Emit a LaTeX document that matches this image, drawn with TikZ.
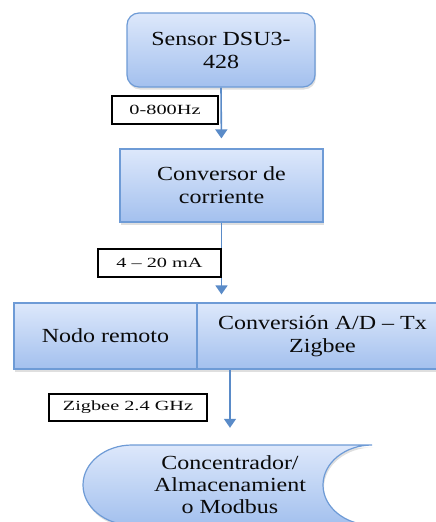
\documentclass[tikz,border=0pt]{standalone}
\usepackage{fontspec}
\setmainfont{Liberation Serif}
\newfontfamily\lblfont{Liberation Serif}
\usetikzlibrary{arrows.meta,shadows}

\definecolor{boxtop}{HTML}{DDE8FB}
\definecolor{boxbot}{HTML}{A3C0EE}
\definecolor{boxline}{HTML}{6E9BD6}
\definecolor{arrowblue}{HTML}{5A8BC8}
\definecolor{txt}{HTML}{0A0A0A}

\tikzset{
  x=1pt, y=1pt,
  blockfill/.style={top color=boxtop, bottom color=boxbot, draw=boxline, line width=1.2pt,
    drop shadow={opacity=0.25, shadow xshift=1pt, shadow yshift=-2.5pt}},
  block/.style={blockfill, text=txt, align=center,
    font=\fontsize{20}{23}\selectfont, inner sep=0pt},
  tag/.style={draw=black, fill=white, line width=1.1pt, inner sep=0pt, text=txt,
    font=\lblfont\fontsize{14}{16}\selectfont},
  flow/.style={draw=arrowblue, line width=1.6pt, -{Triangle[width=12pt,length=9pt]}}
}
% horizontally widened text line
\newcommand{\wide}[1]{\scalebox{1.2}[1]{#1}}
\newcommand{\widelbl}[1]{\scalebox{1.45}[1]{#1}}

\begin{document}
\begin{tikzpicture}
\useasboundingbox (0,0) rectangle (436,-522);

% processing chain
\node[block, rounded corners=12pt, minimum width=188, minimum height=74]
  (sensor) at (221,-50) {\wide{Sensor DSU3-}\\\wide{428}};
\node[block, minimum width=203, minimum height=73]
  (conv) at (221.5,-185.5) {\wide{Conversor de}\\\wide{corriente}};
\node[block, minimum width=183, minimum height=66]
  (nodo) at (105.5,-336) {\wide{Nodo remoto}};
\node[block, minimum width=251, minimum height=66]
  (adtx) at (322.5,-336) {\wide{Conversión A/D – Tx}\\\wide{Zigbee}};

% stored-data shape of the concentrator
\path[blockfill]
  (372,-445) -- (132,-445)
  arc[start angle=90, end angle=270, x radius=49, y radius=40]
  -- (372,-525)
  arc[start angle=270, end angle=90, x radius=49, y radius=40]
  -- cycle;
\node[text=txt, align=center, font=\fontsize{20}{22}\selectfont,
  minimum height=80, inner sep=0pt]
  (store) at (230,-485) {\wide{Concentrador/}\\\wide{Almacenamient}\\\wide{o Modbus}};

% connectors
\draw[flow, shorten >=10pt] (sensor.south) -- (conv.north);
\draw[flow, shorten >=8pt] (conv.south) -- (conv.south |- adtx.north);
\draw[flow, shorten >=17pt] (store.north |- adtx.south) -- (store.north);

% signal labels
\node[tag, minimum width=106, minimum height=28] (l1) at (165,-110) {\widelbl{0-800Hz}};
\node[tag, minimum width=123, minimum height=28] (l2) at (159.5,-263) {\widelbl{4 – 20 mA}};
\node[tag, minimum width=158, minimum height=27] (l3) at (128,-407.5) {\widelbl{Zigbee 2.4 GHz}};
\end{tikzpicture}
\end{document}
